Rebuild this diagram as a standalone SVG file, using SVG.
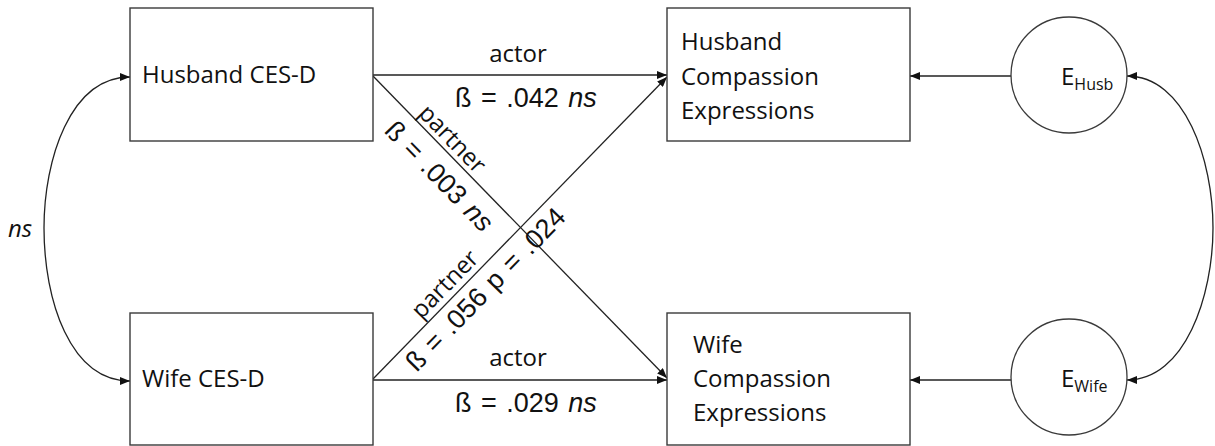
<svg xmlns="http://www.w3.org/2000/svg" width="1215" height="446" viewBox="0 0 1215 446">
<style>
.box{fill:#fff;stroke:#3a3a3a;stroke-width:1.4}
.circ{fill:#fff;stroke:#3a3a3a;stroke-width:1.3}
.node{font-family:"Open Sans","Liberation Sans",sans-serif;font-size:24px;fill:#111}
.sub{font-size:16px}
.lab{font-family:"Open Sans","Liberation Sans",sans-serif;font-size:24px;fill:#111}
.beta{font-family:"Liberation Sans",Arial,sans-serif;font-size:27px;fill:#111;word-spacing:2px}
.conn{fill:none;stroke:#222;stroke-width:1.3}
</style>
<defs>
<marker id="ah" viewBox="0 0 10 8" refX="10" refY="4" markerWidth="10" markerHeight="8" markerUnits="userSpaceOnUse" orient="auto-start-reverse">
<path d="M0,0 L10,4 L0,8 z" fill="#111"/>
</marker>
</defs>

<g id="connectors">
<line class="conn" x1="373" y1="75" x2="667" y2="75" marker-end="url(#ah)"/>
<line class="conn" x1="373" y1="380" x2="667" y2="380" marker-end="url(#ah)"/>
<line class="conn" x1="373" y1="76" x2="667" y2="378" marker-end="url(#ah)"/>
<line class="conn" x1="373" y1="379" x2="667" y2="77" marker-end="url(#ah)"/>
<line class="conn" x1="1011" y1="76" x2="910" y2="76" marker-end="url(#ah)"/>
<line class="conn" x1="1011" y1="380" x2="910" y2="380" marker-end="url(#ah)"/>
<path class="conn" d="M130,77 C70,77 44,160 44,228 C44,300 70,381 130,381" marker-start="url(#ah)" marker-end="url(#ah)"/>
<path class="conn" d="M1127,76 C1185,76 1213,160 1213,228 C1213,296 1185,380 1127,380" marker-start="url(#ah)" marker-end="url(#ah)"/>
<text class="lab" x="518" y="62" text-anchor="middle">actor</text>
<text class="beta" x="455" y="107">ß = .042 <tspan font-style="italic">ns</tspan></text>
<text class="lab" x="518" y="366" text-anchor="middle">actor</text>
<text class="beta" x="455" y="412">ß = .029 <tspan font-style="italic">ns</tspan></text>
<g transform="translate(443,148) rotate(45.8)">
<text class="lab" x="0" y="-5" text-anchor="middle">partner</text>
</g>
<g transform="translate(455,161) rotate(45.8)">
<text class="beta" x="0" y="31" text-anchor="middle">ß = .003 <tspan font-style="italic">ns</tspan></text>
</g>
<g transform="translate(455,294) rotate(-45.7)">
<text class="lab" x="0" y="-6" text-anchor="middle">partner</text>
</g>
<g transform="translate(472,276) rotate(-45.7)">
<text class="beta" x="0" y="28" text-anchor="middle">ß = .056 p = .024</text>
</g>
<text class="lab" x="8" y="237" font-style="italic">ns</text>
</g>

<g id="husband-cesd">
<rect class="box" x="130" y="8" width="243" height="133"/>
<text class="node" x="142" y="83">Husband CES-D</text>
</g>
<g id="wife-cesd">
<rect class="box" x="130" y="313" width="243" height="132"/>
<text class="node" x="142" y="387">Wife CES-D</text>
</g>
<g id="husband-comp">
<rect class="box" x="667" y="8" width="243" height="133"/>
<text class="node" x="681" y="50">Husband</text>
<text class="node" x="681" y="85">Compassion</text>
<text class="node" x="681" y="119">Expressions</text>
</g>
<g id="wife-comp">
<rect class="box" x="667" y="313" width="243" height="132"/>
<text class="node" x="693" y="353">Wife</text>
<text class="node" x="693" y="387">Compassion</text>
<text class="node" x="693" y="421">Expressions</text>
</g>
<g id="e-husb">
<circle class="circ" cx="1069" cy="75" r="58"/>
<text class="node" x="1061" y="85">E<tspan class="sub" dy="5">Husb</tspan></text>
</g>
<g id="e-wife">
<circle class="circ" cx="1069" cy="377" r="58"/>
<text class="node" x="1061" y="387">E<tspan class="sub" dy="5">Wife</tspan></text>
</g>
</svg>
